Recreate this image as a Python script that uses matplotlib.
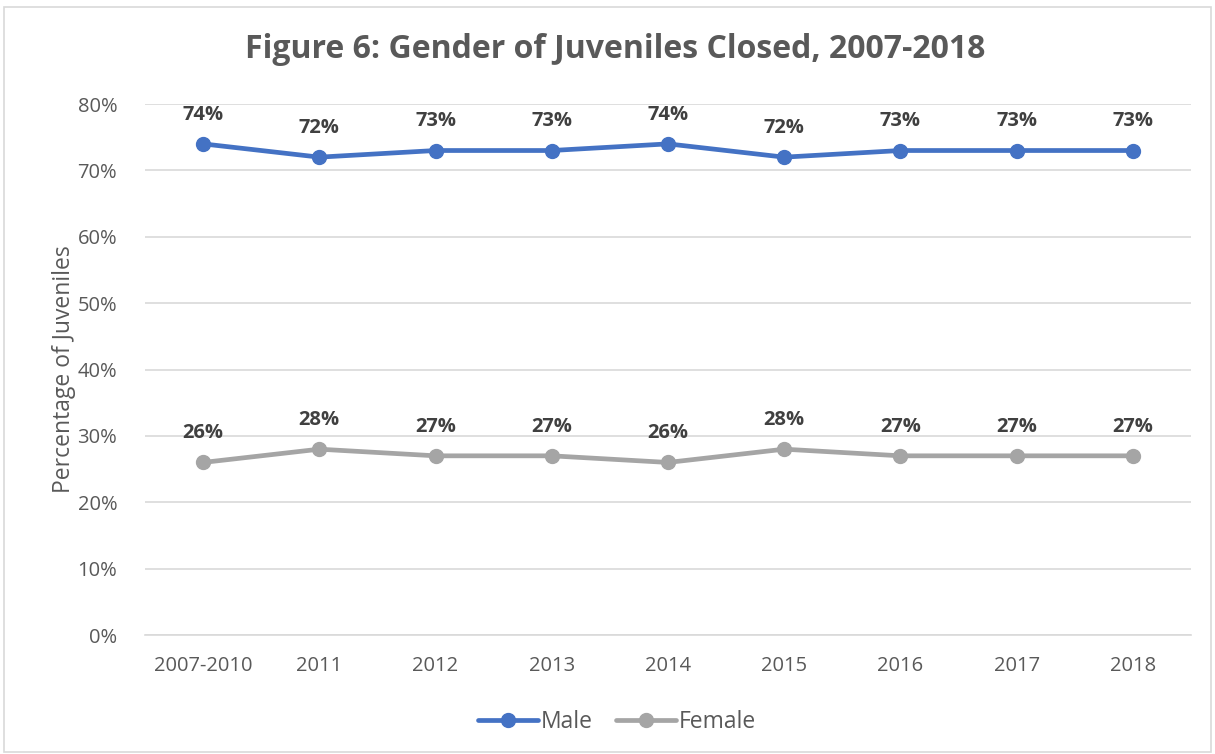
import matplotlib
matplotlib.use("Agg")
import matplotlib.pyplot as plt
from matplotlib.patches import Rectangle
from matplotlib.ticker import FuncFormatter, MultipleLocator

categories = ["2007-2010", "2011", "2012", "2013", "2014", "2015", "2016", "2017", "2018"]
male = [74, 72, 73, 73, 74, 72, 73, 73, 73]
female = [26, 28, 27, 27, 26, 28, 27, 27, 27]

plt.rcParams["font.family"] = ["Open Sans", "DejaVu Sans"]

fig = plt.figure(figsize=(12.15, 7.54), dpi=100)
fig.patches.append(Rectangle((0.003, 0.003), 0.994, 0.988, transform=fig.transFigure,
                             fill=False, edgecolor="#d9d9d9", linewidth=1.2))
ax = fig.add_axes([0.1193, 0.1578, 0.8609, 0.7042])

x = list(range(len(categories)))
blue = "#4472c4"
grey = "#a5a5a5"
ax.plot(x, male, color=blue, linewidth=3.4, marker="o", markersize=10, label="Male",
        solid_capstyle="round", zorder=3)
ax.plot(x, female, color=grey, linewidth=3.4, marker="o", markersize=10, label="Female",
        solid_capstyle="round", zorder=3)

for series in (male, female):
    for xi, v in zip(x, series):
        ax.annotate(f"{v}%", (xi, v), xytext=(0, 21), textcoords="offset points",
                    ha="center", va="center", fontsize=14.5, fontweight="bold", color="#404040")

ax.set_xlim(-0.5, len(categories) - 0.5)
ax.set_ylim(0, 80)
ax.yaxis.set_major_locator(MultipleLocator(10))
ax.yaxis.set_major_formatter(FuncFormatter(lambda v, p: f"{v:.0f}%"))
ax.set_xticks(x)
ax.set_xticklabels(categories)
ax.tick_params(axis="both", length=0, labelsize=14.5, colors="#595959")
ax.tick_params(axis="x", pad=15)
ax.tick_params(axis="y", pad=20)
ax.grid(axis="y", color="#d9d9d9", linewidth=1.2)
ax.set_axisbelow(True)
for s in ["top", "right", "left"]:
    ax.spines[s].set_visible(False)
ax.spines["bottom"].set_color("#d9d9d9")
ax.spines["bottom"].set_linewidth(1.2)

ax.set_ylabel("Percentage of Juveniles", fontsize=16.5, color="#595959", labelpad=1)

fig.text(0.506, 0.934, "Figure 6: Gender of Juveniles Closed, 2007-2018", ha="center", va="center",
         fontsize=23, fontweight="bold", color="#595959")

leg = fig.legend(loc="center", bbox_to_anchor=(0.508, 0.042), ncol=2, frameon=False,
                 fontsize=16.5, handlelength=2.6, columnspacing=1.0, handletextpad=0.15,
                 labelcolor="#595959")

fig.savefig("out.png", dpi=100)
